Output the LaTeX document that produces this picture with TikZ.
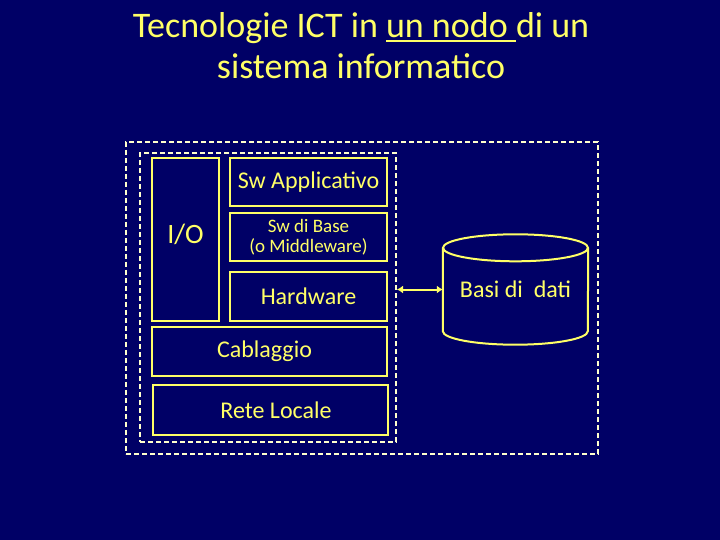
\documentclass[tikz,border=0pt]{standalone}
\usepackage{fontspec}
\setmainfont{Carlito}
\usetikzlibrary{arrows.meta}
\definecolor{bg}{RGB}{0,0,102}
\definecolor{yel}{RGB}{255,255,102}
\definecolor{dsh}{RGB}{255,255,204}
\newcommand\myul[1]{\vtop{\hbox{#1}\kern1.5pt\hrule height 2pt}}
\begin{document}
\begin{tikzpicture}[x=1pt,y=-1pt,
  box/.style={draw=yel, line width=2pt, inner sep=0pt, text=yel, font=\fontsize{24}{28}\selectfont},
  dashbox/.style={draw=dsh, line width=2pt, dash pattern=on 5pt off 3pt, inner sep=0pt},
  txt/.style={text=yel},
  arr/.style={draw=yel, line width=2pt, {Latex[length=6pt,width=8pt]}-{Latex[length=6pt,width=8pt]}}]
\fill[bg] (0,0) rectangle (720,540);
\useasboundingbox (0,0) rectangle (720,540);
% title
\node[txt, font=\fontsize{36}{40}\selectfont, anchor=base] (t1) at (361,38) {Tecnologie ICT in \myul{un nodo\ }di un};
\node[txt, font=\fontsize{36}{40}\selectfont, anchor=base] (t2) at (361,79) {sistema informatico};
% dashed frames
\node[dashbox, minimum width=472pt, minimum height=312pt] (outer) at (362,298) {};
\node[dashbox, minimum width=256pt, minimum height=289pt] (inner) at (268,297.5) {};
% boxes
\node[box, minimum width=67pt, minimum height=163pt, font=\fontsize{28}{32}\selectfont] (io) at (185.5,239.5) {\raisebox{11pt}{I/O}};
\node[box, minimum width=157pt, minimum height=48pt] (swa) at (308.5,182) {Sw Applicativo};
\node[box, minimum width=157pt, minimum height=48pt, align=center, font=\fontsize{19}{20.5}\selectfont] (swb) at (308.5,237) {Sw di Base\\(o Middleware)};
\node[box, minimum width=157pt, minimum height=49pt] (hw) at (308.5,296.5) {Hardware};
\node[box, minimum width=235pt, minimum height=49pt] (cab) at (269.5,351.5) {\hspace*{-10pt}Cablaggio};
\node[box, minimum width=235pt, minimum height=50pt] (rete) at (270.5,410) {\hspace*{11pt}Rete Locale};
% database cylinder
\node[txt, minimum width=145pt, minimum height=83pt, inner sep=0pt, font=\fontsize{24}{28}\selectfont] (db) at (515.5,289.5) {Basi di~ dati};
\draw[yel, line width=2pt] (db.north west) -- (db.south west)
  arc[start angle=180, end angle=0, x radius=72.5, y radius=13.5] -- (db.north east);
\draw[yel, line width=2pt] (db.north) ellipse [x radius=72.5, y radius=13.5];
% connector
\draw[arr] (inner.east |- db.west) -- (db.west);
\end{tikzpicture}
\end{document}
